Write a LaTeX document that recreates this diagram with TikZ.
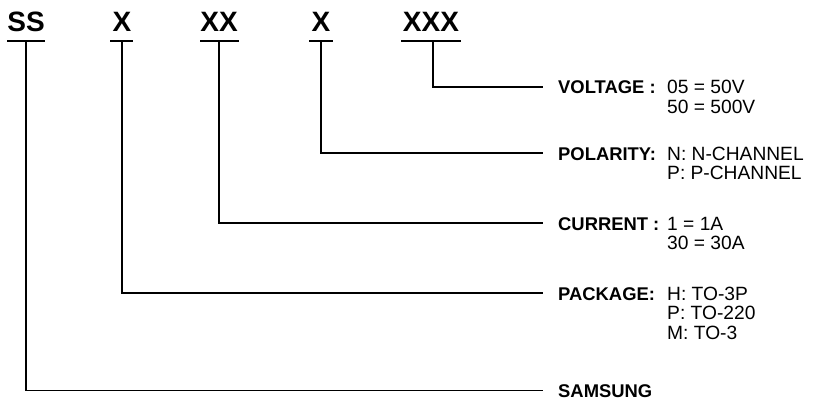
\documentclass[tikz,border=0pt]{standalone}
\usepackage{fontspec}
\setmainfont{Liberation Sans}
\begin{document}
\begin{tikzpicture}[x=1pt,y=-1pt,
  hdr/.style={font=\fontsize{28}{28}\selectfont\bfseries, inner sep=0pt, anchor=base},
  lbl/.style={font=\fontsize{18.4}{20}\selectfont\bfseries, inner sep=0pt, anchor=base west},
  val/.style={font=\fontsize{19.2}{20}\selectfont, inner sep=0pt, anchor=base west},
  uline/.style={line width=2pt},
  conn/.style={line width=1.2pt}]
\useasboundingbox (0,0) rectangle (813,401);
% header codes
\node[hdr] (h1) at (26,32) {SS};
\node[hdr] (h2) at (122,32) {X};
\node[hdr] (h3) at (219,32) {XX};
\node[hdr] (h4) at (321,32) {X};
\node[hdr] (h5) at (431,32) {XXX};
% underlines
\draw[uline] (7,41.5) -- (45,41.5);
\draw[uline] (110,41.5) -- (133,41.5);
\draw[uline] (200,41.5) -- (239,41.5);
\draw[uline] (309,41.5) -- (333,41.5);
\draw[uline] (401,41.5) -- (461,41.5);
\coordinate (u1) at (26,41.5);
\coordinate (u2) at (122,41.5);
\coordinate (u3) at (219,41.5);
\coordinate (u4) at (321,41.5);
\coordinate (u5) at (433,41.5);
% line ends
\coordinate (e5) at (543,87);
\coordinate (e4) at (543,153);
\coordinate (e3) at (543,223);
\coordinate (e2) at (543,293);
\coordinate (e1) at (543,390.5);
% labels and values
\node[lbl] (l5) at (558,94) {VOLTAGE :};
\node[val] (v5a) at (667,94) {05 = 50V};
\node[val] (v5b) at (667,113.5) {50 = 500V};
\node[lbl] (l4) at (558,160) {POLARITY:};
\node[val] (v4a) at (667,160) {N: N-CHANNEL};
\node[val] (v4b) at (667,179.5) {P: P-CHANNEL};
\node[lbl] (l3) at (558,230) {CURRENT :};
\node[val] (v3a) at (667,230) {1 = 1A};
\node[val] (v3b) at (667,249.5) {30 = 30A};
\node[lbl] (l2) at (558,300) {PACKAGE:};
\node[val] (v2a) at (667,300) {H: TO-3P};
\node[val] (v2b) at (667,319.5) {P: TO-220};
\node[val] (v2c) at (667,339) {M: TO-3};
\node[lbl] (l1) at (558,397) {SAMSUNG};
% connectors
\draw[conn] (u1) |- (e1);
\draw[conn] (u2) |- (e2);
\draw[conn] (u3) |- (e3);
\draw[conn] (u4) |- (e4);
\draw[conn] (u5) |- (e5);
\end{tikzpicture}
\end{document}
